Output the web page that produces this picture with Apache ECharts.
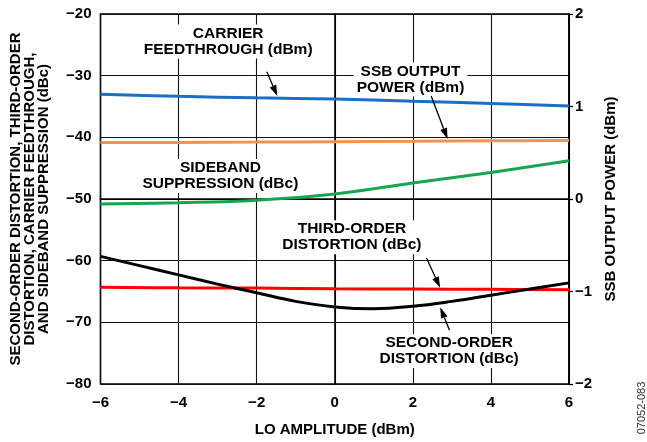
<!DOCTYPE html>
<html>
<head>
<meta charset="utf-8">
<script src="https://cdn.jsdelivr.net/npm/echarts@6/dist/echarts.min.js"></script>
<style>
html,body{margin:0;padding:0;background:#fff;}
#c{width:647px;height:442px;}
</style>
</head>
<body>
<div id="c"></div>
<script>
// ---- data ----
const xLo = [-6, -4, -2, 0, 2, 4, 6];
const carrierFeedthrough = [-33.0, -33.35, -33.6, -33.8, -34.15, -34.5, -34.9];   // dBm, left axis
const ssbOutputPower = [0.61, 0.612, 0.615, 0.62, 0.625, 0.63, 0.632];           // dBm, right axis
const sidebandSuppression = [-50.8, -50.6, -50.2, -49.2, -47.4, -45.7, -43.8];   // dBc
const thirdOrder = [-64.3, -64.4, -64.45, -64.55, -64.6, -64.65, -64.7];         // dBc
const xSecond = [-6, -5, -4, -3, -2, -1, 0, 1, 2, 3, 4, 5, 6];
const secondOrder = [-59.3, -60.8, -62.3, -63.8, -65.2, -66.6, -67.5, -67.8, -67.4, -66.6, -65.6, -64.6, -63.6];

const xTicks = { min: -6, max: 6, interval: 2 };
const yLeftTicks = { min: -80, max: -20, interval: 10 };
const yRightTicks = { min: -2, max: 2, interval: 1 };

// annotation texts (data coordinates of text centre)
const annoLabels = [
  { text: 'CARRIER\nFEEDTHROUGH (dBm)', at: [-2.73, -24.47] },
  { text: 'SSB OUTPUT\nPOWER (dBm)', at: [1.94, -30.63] },
  { text: 'SIDEBAND\nSUPPRESSION (dBc)', at: [-2.93, -46.29] },
  { text: 'THIRD-ORDER\nDISTORTION (dBc)', at: [0.44, -56.19] },
  { text: 'SECOND-ORDER\nDISTORTION (dBc)', at: [2.93, -74.65] }
];
// annotation arrows: [from, to] in data coords (left axis)
const annoArrows = [
  [[-1.74, -29.38], [-1.47, -33.31]],
  [[2.47, -33.31], [2.89, -40.29]],
  [[2.35, -59.58], [2.70, -64.38]],
  [[2.94, -71.29], [2.70, -67.57]]
];

const FONT = 'Liberation Sans, Arial, Helvetica, sans-serif';
const fmtMinus = v => String(v).replace('-', '\u2212');
const pairs = (xs, ys) => xs.map((x, i) => [x, ys[i]]);

const chart = echarts.init(document.getElementById('c'), null, { renderer: 'canvas' });

const lineSeries = (name, data, color, yIdx) => ({
  name, type: 'line', data, yAxisIndex: yIdx || 0, smooth: 0.4,
  showSymbol: false, symbol: 'none',
  lineStyle: { color, width: 3 }, itemStyle: { color },
  z: 3, animation: false, silent: true
});

chart.setOption({
  animation: false,
  grid: { left: 99.5, right: 78, top: 14, bottom: 52.5, show: true, borderColor: '#000', borderWidth: 1.6, backgroundColor: 'transparent' },
  xAxis: {
    type: 'value', min: xTicks.min, max: xTicks.max, interval: xTicks.interval,
    name: 'LO AMPLITUDE (dBm)', nameLocation: 'middle', nameGap: 38,
    nameTextStyle: { fontFamily: FONT, fontSize: 15, fontWeight: 'bold', color: '#000' },
    axisLine: { show: true, lineStyle: { color: '#000', width: 1.6 } },
    axisTick: { show: false },
    axisLabel: { formatter: fmtMinus, fontFamily: FONT, fontSize: 15, fontWeight: 'bold', color: '#000', margin: 11 },
    splitLine: { show: true, lineStyle: { color: '#111', width: 1.1 } }
  },
  yAxis: [{
    type: 'value', min: yLeftTicks.min, max: yLeftTicks.max, interval: yLeftTicks.interval,
    name: 'SECOND-ORDER DISTORTION, THIRD-ORDER\nDISTORTION, CARRIER FEEDTHROUGH,\nAND SIDEBAND SUPPRESSION (dBc)',
    nameLocation: 'middle', nameGap: 50, nameRotate: 90,
    nameTextStyle: { fontFamily: FONT, fontSize: 15, fontWeight: 'bold', color: '#000', lineHeight: 14 },
    axisLine: { show: true, lineStyle: { color: '#000', width: 1.6 } },
    axisTick: { show: false },
    axisLabel: { formatter: fmtMinus, fontFamily: FONT, fontSize: 15, fontWeight: 'bold', color: '#000', margin: 9 },
    splitLine: { show: true, lineStyle: { color: '#111', width: 1.1 } }
  }, {
    type: 'value', min: yRightTicks.min, max: yRightTicks.max, interval: yRightTicks.interval, position: 'right',
    name: 'SSB OUTPUT POWER (dBm)', nameLocation: 'middle', nameGap: 32, nameRotate: 90,
    nameTextStyle: { fontFamily: FONT, fontSize: 15, fontWeight: 'bold', color: '#000' },
    axisLine: { show: true, lineStyle: { color: '#000', width: 1.6 } },
    axisTick: { show: true, length: 4, lineStyle: { color: '#000', width: 1.2 } },
    axisLabel: { formatter: fmtMinus, fontFamily: FONT, fontSize: 15, fontWeight: 'bold', color: '#000', margin: 6 },
    splitLine: { show: false }
  }],
  series: [
    lineSeries('Carrier feedthrough', pairs(xLo, carrierFeedthrough), '#1a6fc4'),
    lineSeries('SSB output power', pairs(xLo, ssbOutputPower), '#f5924a', 1),
    lineSeries('Sideband suppression', pairs(xLo, sidebandSuppression), '#18a550'),
    lineSeries('Third-order distortion', pairs(xLo, thirdOrder), '#ff0000'),
    lineSeries('Second-order distortion', pairs(xSecond, secondOrder), '#000000')
  ]
});

// annotations, positioned from data coordinates
const px = p => chart.convertToPixel({ xAxisIndex: 0, yAxisIndex: 0 }, p);
const graphics = [];
annoLabels.forEach(a => {
  const [x, y] = px(a.at);
  graphics.push({
    type: 'text', x, y, z: 50, silent: true,
    style: {
      text: a.text, fill: '#000', font: 'bold 15.5px ' + FONT,
      textAlign: 'center', textVerticalAlign: 'middle', lineHeight: 16,
      backgroundColor: '#fff', padding: [1, 3]
    }
  });
});
annoArrows.forEach(([from, to]) => {
  const [x1, y1] = px(from);
  const [x2, y2] = px(to);
  const dx = x2 - x1, dy = y2 - y1, len = Math.hypot(dx, dy);
  const ux = dx / len, uy = dy / len;
  const hl = 11, hw = 3.5;
  const bx = x2 - ux * hl, by = y2 - uy * hl;
  graphics.push({ type: 'line', z: 60, silent: true, shape: { x1, y1, x2: bx, y2: by }, style: { stroke: '#000', lineWidth: 1.3 } });
  graphics.push({ type: 'polygon', z: 60, silent: true,
    shape: { points: [[x2, y2], [bx - uy * hw, by + ux * hw], [bx + uy * hw, by - ux * hw]] },
    style: { fill: '#000' } });
});
// figure code
graphics.push({ type: 'text', x: 642, y: 408, rotation: Math.PI / 2, z: 50, silent: true,
  style: { text: '07052-083', fill: '#333', font: '11px ' + FONT, textAlign: 'center', textVerticalAlign: 'middle' } });
chart.setOption({ graphic: graphics });
</script>
</body>
</html>
